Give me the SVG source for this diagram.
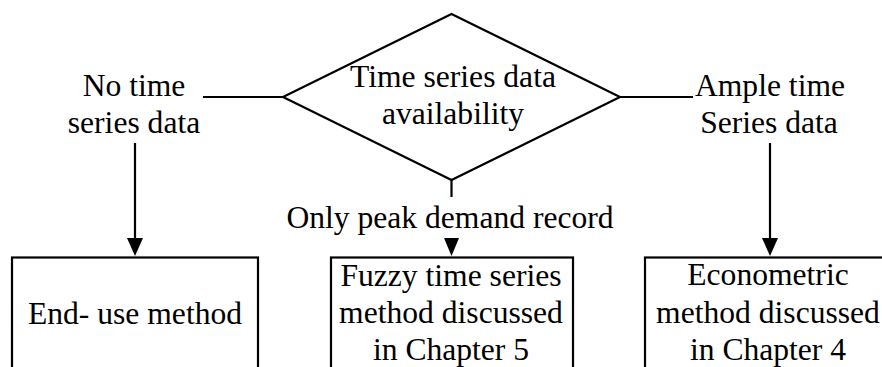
<svg xmlns="http://www.w3.org/2000/svg" width="882" height="367" viewBox="0 0 882 367">
  <style>
    .shape { fill: #ffffff; stroke: #000000; stroke-width: 2.2; }
    .line { fill: none; stroke: #000000; stroke-width: 2.2; }
    .head { fill: #000000; }
    text { font-family: "Liberation Serif", "Times New Roman", serif; font-size: 31.6px; fill: #000000; text-anchor: middle; }
  </style>

  <rect width="882" height="367" fill="#ffffff"/>

  <!-- connectors -->
  <g id="connectors">
    <line class="line" x1="203" y1="97" x2="283" y2="97"/>
    <line class="line" x1="620" y1="97" x2="693" y2="97"/>
    <path class="line" d="M135,143 L135,238"/>
    <path class="head" d="M127,238 L143,238 L135,256 Z"/>
    <path class="line" d="M451.5,180 L451.5,197"/>
    <path class="head" d="M444,238 L459,238 L451.5,256 Z"/>
    <path class="line" d="M770,143 L770,238"/>
    <path class="head" d="M762,238 L778,238 L770,256 Z"/>
  </g>

  <!-- decision -->
  <g id="decision">
    <polygon class="shape" points="451.5,14 620,97 451.5,180 283,97"/>
    <text x="453" y="87">Time series data</text>
    <text x="453" y="124">availability</text>
  </g>

  <!-- branch labels -->
  <g id="label-none">
    <text x="134" y="96">No time</text>
    <text x="134" y="133">series data</text>
  </g>
  <g id="label-ample">
    <text x="770" y="96">Ample time</text>
    <text x="769" y="133">Series data</text>
  </g>
  <g id="label-peak">
    <text x="450" y="228">Only peak demand record</text>
  </g>

  <!-- outcome boxes -->
  <g id="end-use">
    <rect class="shape" x="12" y="257.5" width="246" height="130"/>
    <text x="135" y="324">End- use method</text>
  </g>
  <g id="fuzzy">
    <rect class="shape" x="331" y="257.5" width="242" height="130"/>
    <text x="451" y="286">Fuzzy time series</text>
    <text x="451" y="323">method discussed</text>
    <text x="451" y="360">in Chapter 5</text>
  </g>
  <g id="econometric">
    <rect class="shape" x="645" y="257.5" width="260" height="130"/>
    <text x="768" y="285">Econometric</text>
    <text x="768" y="323">method discussed</text>
    <text x="768" y="360">in Chapter 4</text>
  </g>
</svg>
